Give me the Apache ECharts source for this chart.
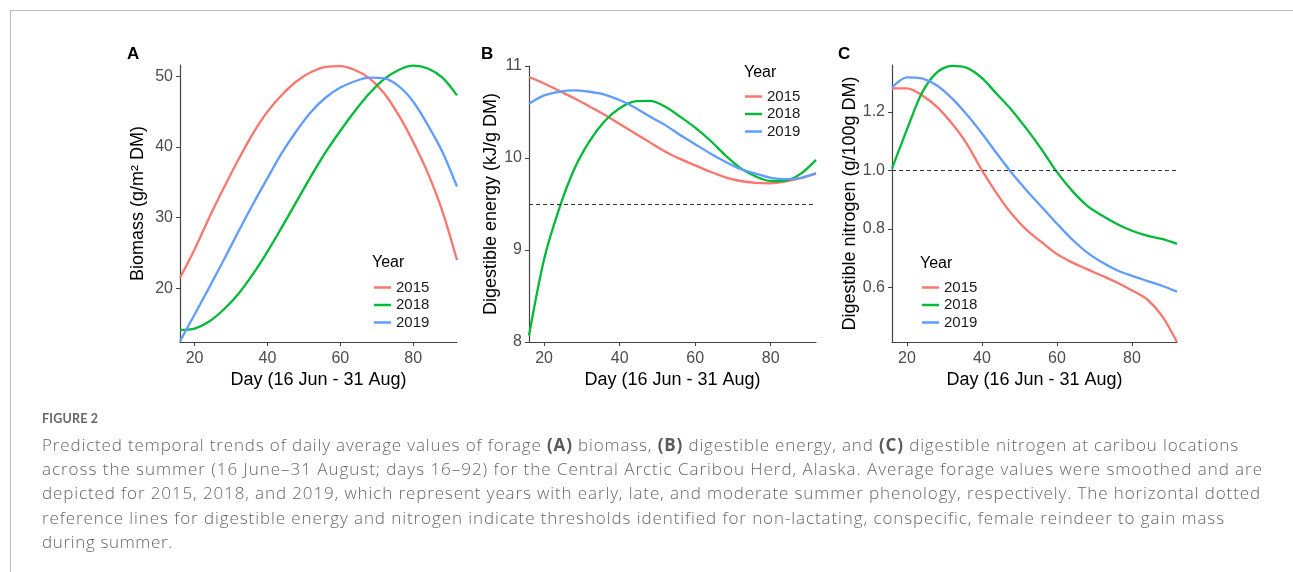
<!DOCTYPE html>
<html>
<head>
<meta charset="utf-8">
<script src="https://cdn.jsdelivr.net/npm/echarts@6/dist/echarts.min.js"></script>
<style>
  body { margin: 0; background: #fff; }
  #wrap { position: relative; width: 1293px; height: 572px; overflow: hidden; }
  #echar { position: absolute; left: 0; top: 0; width: 1293px; height: 572px; }
  #frame { position: absolute; left: 10px; top: 10px; width: 1290px; height: 570px;
           border-top: 1px solid #b8b8b8; border-left: 1px solid #b8b8b8; }
  .cap { position: absolute; left: 42px; font-family: "Open Sans", Lato, sans-serif; color: #666;
         white-space: nowrap; }
  .ln { font-size: 17px; line-height: 24px; font-weight: 300; }
  .ln b { font-weight: 700; color: #5a5a5a; }
  #fig { top: 411px; font-family: Lato, sans-serif; font-size: 12.5px; line-height: 16px; font-weight: 700; color: #666; letter-spacing: 0.2px; }
</style>
</head>
<body>
<div id="wrap">
  <div id="frame"></div>
  <div id="echar"></div>
  <div class="cap" id="fig">FIGURE 2</div>
  <div class="cap ln fit" data-w="1197" style="top:433px">Predicted temporal trends of daily average values of forage <b>(A)</b> biomass, <b>(B)</b> digestible energy, and <b>(C)</b> digestible nitrogen at caribou locations</div>
  <div class="cap ln fit" data-w="1221" style="top:457px">across the summer (16 June–31 August; days 16–92) for the Central Arctic Caribou Herd, Alaska. Average forage values were smoothed and are</div>
  <div class="cap ln fit" data-w="1219" style="top:481px">depicted for 2015, 2018, and 2019, which represent years with early, late, and moderate summer phenology, respectively. The horizontal dotted</div>
  <div class="cap ln fit" data-w="1183" style="top:506px">reference lines for digestible energy and nitrogen indicate thresholds identified for non-lactating, conspecific, female reindeer to gain mass</div>
  <div class="cap ln fit" data-w="131" style="top:530px">during summer.</div>
</div>
<script type="text/javascript">
// day of summer (16 Jun = 16 ... 31 Aug = 92)
var days = [16, 20, 24, 28, 32, 36, 40, 44, 48, 52, 56, 60, 64, 68, 72, 76, 80, 84, 88, 92];
var years = ['2015', '2018', '2019'];
var colors = ['#F8766D', '#00BA38', '#619CFF'];

// A: biomass (g/m2 DM)
var biomass2015 = [21.5, 25.5, 30.0, 34.2, 38.2, 41.9, 45.0, 47.4, 49.3, 50.6, 51.35, 51.45, 50.9, 49.7, 47.6, 44.5, 40.7, 36.3, 30.9, 24.0];
var biomass2018 = [14.1, 14.3, 15.3, 17.0, 19.2, 22.0, 25.2, 28.7, 32.3, 35.9, 39.3, 42.3, 45.1, 47.6, 49.6, 50.9, 51.5, 51.1, 49.8, 47.3];
var biomass2019 = [12.5, 16.3, 20.1, 24.0, 28.0, 31.9, 35.6, 39.2, 42.3, 45.0, 47.0, 48.4, 49.3, 49.8, 49.7, 48.6, 46.4, 43.1, 39.3, 34.4];

// B: digestible energy (kJ/g DM)
var energy2015 = [10.88, 10.81, 10.73, 10.65, 10.56, 10.47, 10.37, 10.27, 10.17, 10.07, 9.99, 9.92, 9.85, 9.79, 9.75, 9.73, 9.725, 9.745, 9.78, 9.83];
var energy2018 = [8.07, 8.90, 9.45, 9.88, 10.18, 10.40, 10.54, 10.615, 10.62, 10.56, 10.45, 10.33, 10.19, 10.03, 9.89, 9.80, 9.75, 9.755, 9.83, 9.98];
var energy2019 = [10.59, 10.68, 10.72, 10.735, 10.72, 10.69, 10.63, 10.55, 10.45, 10.36, 10.25, 10.15, 10.05, 9.96, 9.88, 9.83, 9.785, 9.77, 9.785, 9.835];

// C: digestible nitrogen (g/100g DM)
var nitrogen2015 = [1.28, 1.28, 1.257, 1.217, 1.16, 1.09, 1.00, 0.92, 0.85, 0.795, 0.754, 0.714, 0.686, 0.663, 0.64, 0.617, 0.59, 0.56, 0.503, 0.414];
var nitrogen2018 = [1.006, 1.14, 1.265, 1.335, 1.357, 1.35, 1.315, 1.26, 1.205, 1.14, 1.07, 0.994, 0.931, 0.88, 0.846, 0.817, 0.794, 0.777, 0.766, 0.749];
var nitrogen2019 = [1.283, 1.318, 1.314, 1.29, 1.246, 1.19, 1.126, 1.057, 0.99, 0.93, 0.874, 0.818, 0.765, 0.72, 0.686, 0.659, 0.64, 0.623, 0.606, 0.586];

// thresholds (dotted reference lines)
var energyThreshold = 9.5;
var nitrogenThreshold = 1.0;

var xTicks = [20, 40, 60, 80];
var biomassTicks = [20, 30, 40, 50];
var energyTicks = [8, 9, 10, 11];
var nitrogenTicks = [0.6, 0.8, 1.0, 1.2];

var font = 'Liberation Sans';
var pairs = function(ys) {
    return days.map(function(d, i) { return [d, ys[i]]; });
};

// stretch caption lines to the widths of the original
document.querySelectorAll('.fit').forEach(function(el) {
    var target = +el.getAttribute('data-w');
    var w = el.getBoundingClientRect().width;
    var n = el.textContent.length;
    el.style.letterSpacing = ((target - w) / n) + 'px';
});

var myChart = echarts.init(document.getElementById('echar'));

var grids = [
    {left: 180, top: 65, width: 277, height: 277},
    {left: 529, top: 66, width: 287, height: 276},
    {left: 892, top: 65, width: 285, height: 277}
];

var xAxes = grids.map(function(g, i) {
    return {
        type: 'value', gridIndex: i, min: 16, max: 92,
        name: 'Day (16 Jun - 31 Aug)', nameLocation: 'middle', nameGap: 29,
        nameTextStyle: {fontFamily: font, fontSize: 18, color: '#000'},
        axisLine: {show: true, lineStyle: {color: '#444', width: 1.2}},
        axisTick: {show: true, length: 4, customValues: xTicks, lineStyle: {color: '#444'}},
        axisLabel: {customValues: xTicks, margin: 9, fontFamily: font, fontSize: 16, color: '#4D4D4D'},
        splitLine: {show: false}
    };
});

var yInfo = [
    {min: 12.4, max: 51.6, ticks: biomassTicks, name: 'Biomass (g/m² DM)', gap: 33, fmt: function(v) { return v; }},
    {min: 8, max: 11, ticks: energyTicks, name: 'Digestible energy (kJ/g DM)', gap: 28, fmt: function(v) { return v; }},
    {min: 0.414, max: 1.36, ticks: nitrogenTicks, name: 'Digestible nitrogen (g/100g DM)', gap: 31, fmt: function(v) { return v.toFixed(1); }}
];

var yAxes = yInfo.map(function(y, i) {
    return {
        type: 'value', gridIndex: i, min: y.min, max: y.max,
        name: y.name, nameLocation: 'middle', nameGap: y.gap,
        nameTextStyle: {fontFamily: font, fontSize: 18, color: '#000'},
        axisLine: {show: true, lineStyle: {color: '#444', width: 1.2}},
        axisTick: {show: true, length: 4, customValues: y.ticks, lineStyle: {color: '#444'}},
        axisLabel: {customValues: y.ticks, margin: 7, fontFamily: font, fontSize: 16, color: '#4D4D4D', formatter: y.fmt},
        splitLine: {show: false}
    };
});

var panelData = [
    [biomass2015, biomass2018, biomass2019],
    [energy2015, energy2018, energy2019],
    [nitrogen2015, nitrogen2018, nitrogen2019]
];
var thresholds = [null, energyThreshold, nitrogenThreshold];

var series = [];
panelData.forEach(function(panel, p) {
    panel.forEach(function(vals, k) {
        var s = {
            name: years[k], type: 'line', xAxisIndex: p, yAxisIndex: p,
            data: pairs(vals), smooth: 0.3, symbol: 'none',
            lineStyle: {color: colors[k], width: 2.3}, itemStyle: {color: colors[k]},
            z: 3
        };
        if (k === 0 && thresholds[p] !== null) {
            s.markLine = {
                silent: true, symbol: ['none', 'none'], label: {show: false},
                lineStyle: {type: [4, 3], color: '#333', width: 1},
                data: [{yAxis: thresholds[p]}]
            };
        }
        series.push(s);
    });
});

// legend positions for A, B, C
var legendPos = [[374, 280], [745, 89], [922, 280]];
var legends = legendPos.map(function(pos) {
    return {
        left: pos[0], top: pos[1], orient: 'vertical', data: years, padding: 0,
        icon: 'rect', itemWidth: 17, itemHeight: 2.5, itemGap: 2.5,
        textStyle: {fontFamily: font, fontSize: 15, lineHeight: 15, color: '#1a1a1a'},
        selectedMode: false
    };
});

var labels = [
    {type: 'text', left: 127, top: 46, style: {text: 'A', font: 'bold 17px "Liberation Sans"', fill: '#000'}},
    {type: 'text', left: 481, top: 46, style: {text: 'B', font: 'bold 17px "Liberation Sans"', fill: '#000'}},
    {type: 'text', left: 838, top: 46, style: {text: 'C', font: 'bold 17px "Liberation Sans"', fill: '#000'}},
    {type: 'text', left: 372, top: 255, style: {text: 'Year', font: '16px "Liberation Sans"', fill: '#000'}},
    {type: 'text', left: 744, top: 65, style: {text: 'Year', font: '16px "Liberation Sans"', fill: '#000'}},
    {type: 'text', left: 920, top: 256, style: {text: 'Year', font: '16px "Liberation Sans"', fill: '#000'}}
];

myChart.setOption({
    animation: false,
    backgroundColor: 'transparent',
    grid: grids,
    xAxis: xAxes,
    yAxis: yAxes,
    legend: legends,
    graphic: labels,
    series: series
});
</script>
</body>
</html>
